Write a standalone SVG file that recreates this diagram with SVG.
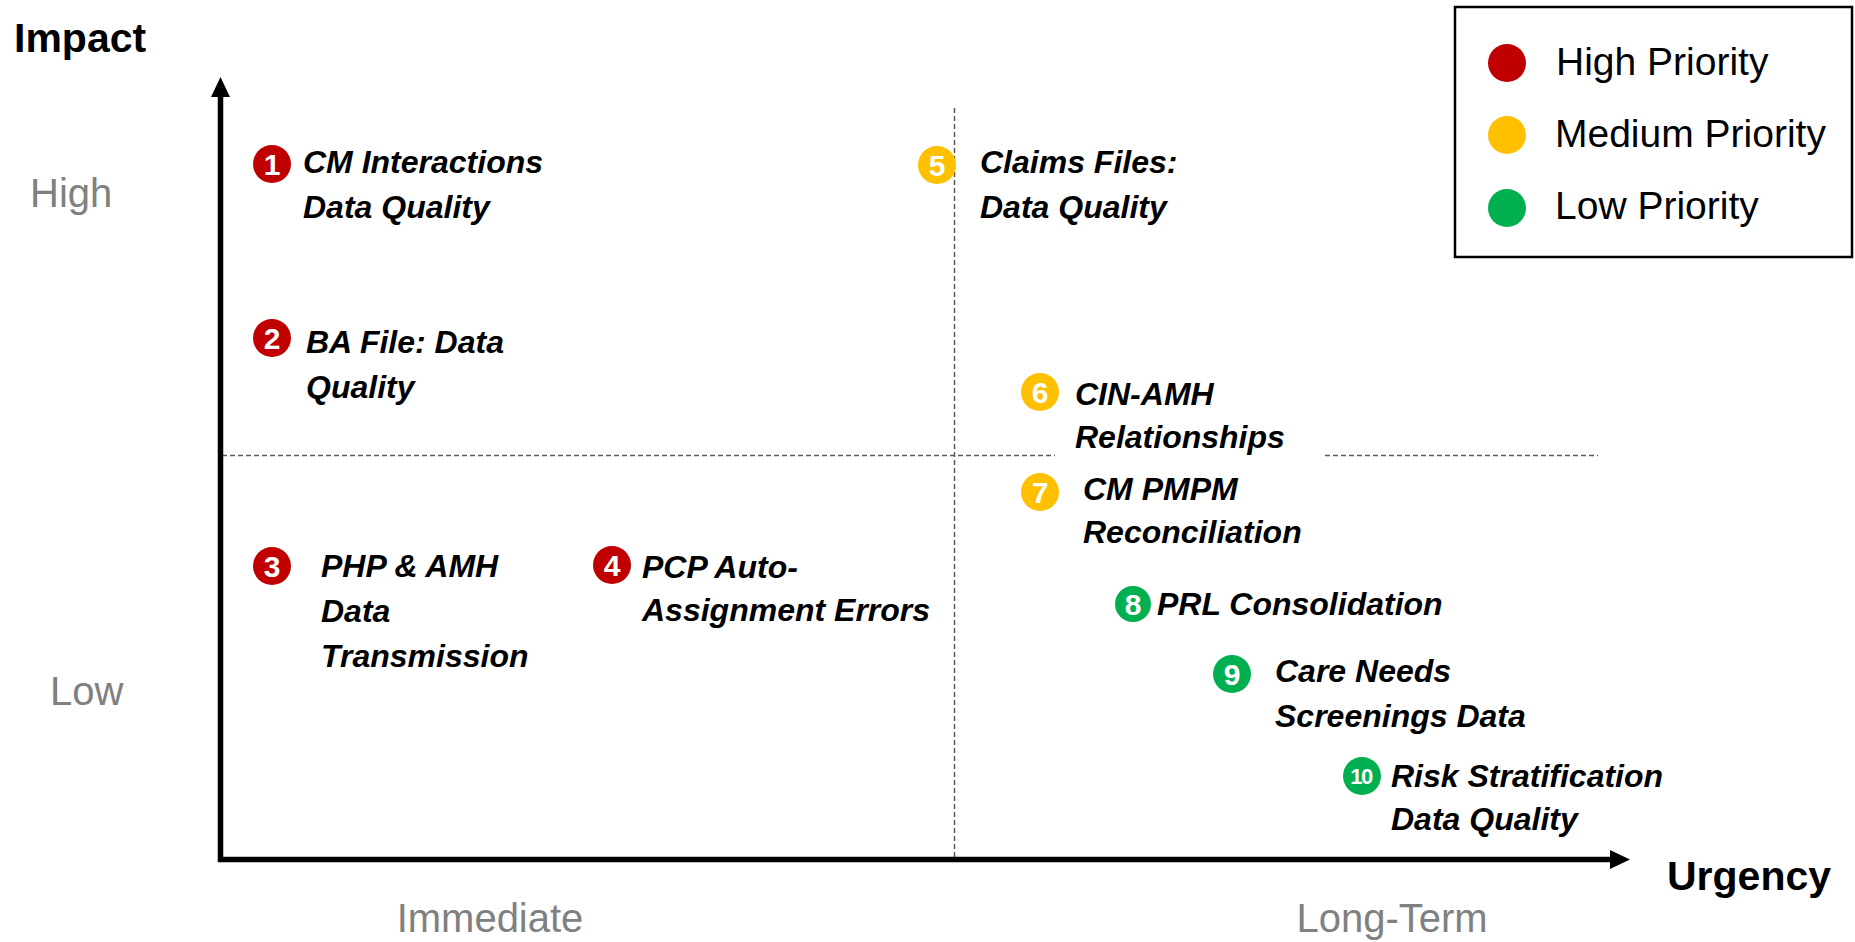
<svg xmlns="http://www.w3.org/2000/svg" width="1855" height="942" viewBox="0 0 1855 942">
  <style>
    .axis { stroke: #000; stroke-width: 5.5; fill: none; }
    .grid { stroke: #595959; stroke-width: 1.5; stroke-dasharray: 5 3; fill: none; }
    .title { font-family: "Liberation Sans", Arial, sans-serif; font-weight: bold; font-size: 41px; fill: #000; }
    .level { font-family: "Liberation Sans", Arial, sans-serif; font-size: 40px; fill: #808080; }
    .label { font-family: "Liberation Sans", Arial, sans-serif; font-weight: bold; font-style: italic; font-size: 32px; fill: #000; }
    .num { font-family: "Liberation Sans", Arial, sans-serif; font-weight: bold; font-size: 30px; fill: #fff; text-anchor: middle; }
    .num10 { font-size: 22px; letter-spacing: -1.5px; }
    .legend-text { font-family: "Liberation Sans", Arial, sans-serif; font-size: 39px; fill: #000; }
    .high { fill: #C00000; }
    .medium { fill: #FFC000; }
    .low { fill: #00B050; }
  </style>
  <defs>
    <marker id="arrow" markerUnits="userSpaceOnUse" markerWidth="21" markerHeight="19" refX="0" refY="9.5" orient="auto" viewBox="0 0 21 19">
      <path d="M0,0 L20,9.5 L0,19 z" fill="#000"/>
    </marker>
  </defs>

  <rect width="1855" height="942" fill="#fff"/>

  <!-- quadrant guides -->
  <g id="grid">
    <line class="grid" x1="954.5" y1="108" x2="954.5" y2="857"/>
    <line class="grid" x1="222" y1="455.5" x2="1055" y2="455.5"/>
    <line class="grid" x1="1325" y1="455.5" x2="1598" y2="455.5"/>
  </g>

  <!-- axes -->
  <g id="connectors">
    <line class="axis" x1="220.5" y1="862" x2="220.5" y2="97" marker-end="url(#arrow)"/>
    <line class="axis" x1="218" y1="859.5" x2="1610" y2="859.5" marker-end="url(#arrow)"/>
  </g>

  <!-- axis titles and levels -->
  <g id="axis-labels">
    <text class="title" x="14" y="52">Impact</text>
    <text class="title" x="1667" y="890">Urgency</text>
    <text class="level" x="30" y="207">High</text>
    <text class="level" x="50" y="705">Low</text>
    <text class="level" x="490" y="932" text-anchor="middle">Immediate</text>
    <text class="level" x="1392" y="932" text-anchor="middle">Long-Term</text>
  </g>

  <!-- items -->
  <g id="item-1">
    <circle class="high" cx="272" cy="164" r="19"/>
    <text class="num" x="272" y="174.5">1</text>
    <text class="label"><tspan x="303" y="173">CM Interactions</tspan><tspan x="303" y="218">Data Quality</tspan></text>
  </g>
  <g id="item-2">
    <circle class="high" cx="272" cy="338" r="19"/>
    <text class="num" x="272" y="348.5">2</text>
    <text class="label"><tspan x="306" y="353">BA File: Data</tspan><tspan x="306" y="398">Quality</tspan></text>
  </g>
  <g id="item-3">
    <circle class="high" cx="272" cy="566" r="19"/>
    <text class="num" x="272" y="576.5">3</text>
    <text class="label"><tspan x="321" y="577">PHP &amp; AMH</tspan><tspan x="321" y="622">Data</tspan><tspan x="321" y="667">Transmission</tspan></text>
  </g>
  <g id="item-4">
    <circle class="high" cx="612" cy="565" r="19"/>
    <text class="num" x="612" y="575.5">4</text>
    <text class="label"><tspan x="642" y="578">PCP Auto-</tspan><tspan x="642" y="621">Assignment Errors</tspan></text>
  </g>
  <g id="item-5">
    <circle class="medium" cx="937" cy="165" r="19"/>
    <text class="num" x="937" y="175.5">5</text>
    <text class="label"><tspan x="980" y="173">Claims Files:</tspan><tspan x="980" y="218">Data Quality</tspan></text>
  </g>
  <g id="item-6">
    <circle class="medium" cx="1040" cy="392" r="19"/>
    <text class="num" x="1040" y="402.5">6</text>
    <text class="label"><tspan x="1075" y="405">CIN-AMH</tspan><tspan x="1075" y="448">Relationships</tspan></text>
  </g>
  <g id="item-7">
    <circle class="medium" cx="1040" cy="492" r="19"/>
    <text class="num" x="1040" y="502.5">7</text>
    <text class="label"><tspan x="1083" y="500">CM PMPM</tspan><tspan x="1083" y="543">Reconciliation</tspan></text>
  </g>
  <g id="item-8">
    <circle class="low" cx="1133" cy="604" r="18"/>
    <text class="num" x="1133" y="614.5">8</text>
    <text class="label" x="1157" y="615">PRL Consolidation</text>
  </g>
  <g id="item-9">
    <circle class="low" cx="1232" cy="674" r="19"/>
    <text class="num" x="1232" y="684.5">9</text>
    <text class="label"><tspan x="1275" y="682">Care Needs</tspan><tspan x="1275" y="727">Screenings Data</tspan></text>
  </g>
  <g id="item-10">
    <circle class="low" cx="1362" cy="776" r="19"/>
    <text class="num num10" x="1361" y="784">10</text>
    <text class="label"><tspan x="1391" y="787">Risk Stratification</tspan><tspan x="1391" y="830">Data Quality</tspan></text>
  </g>

  <!-- legend -->
  <g id="legend">
    <rect x="1455" y="7" width="397" height="250" fill="#fff" stroke="#000" stroke-width="2.5"/>
    <circle class="high" cx="1507" cy="63" r="19"/>
    <text class="legend-text" x="1556" y="75">High Priority</text>
    <circle class="medium" cx="1507" cy="135" r="19"/>
    <text class="legend-text" x="1555" y="147">Medium Priority</text>
    <circle class="low" cx="1507" cy="208" r="19"/>
    <text class="legend-text" x="1555" y="219">Low Priority</text>
  </g>
</svg>
